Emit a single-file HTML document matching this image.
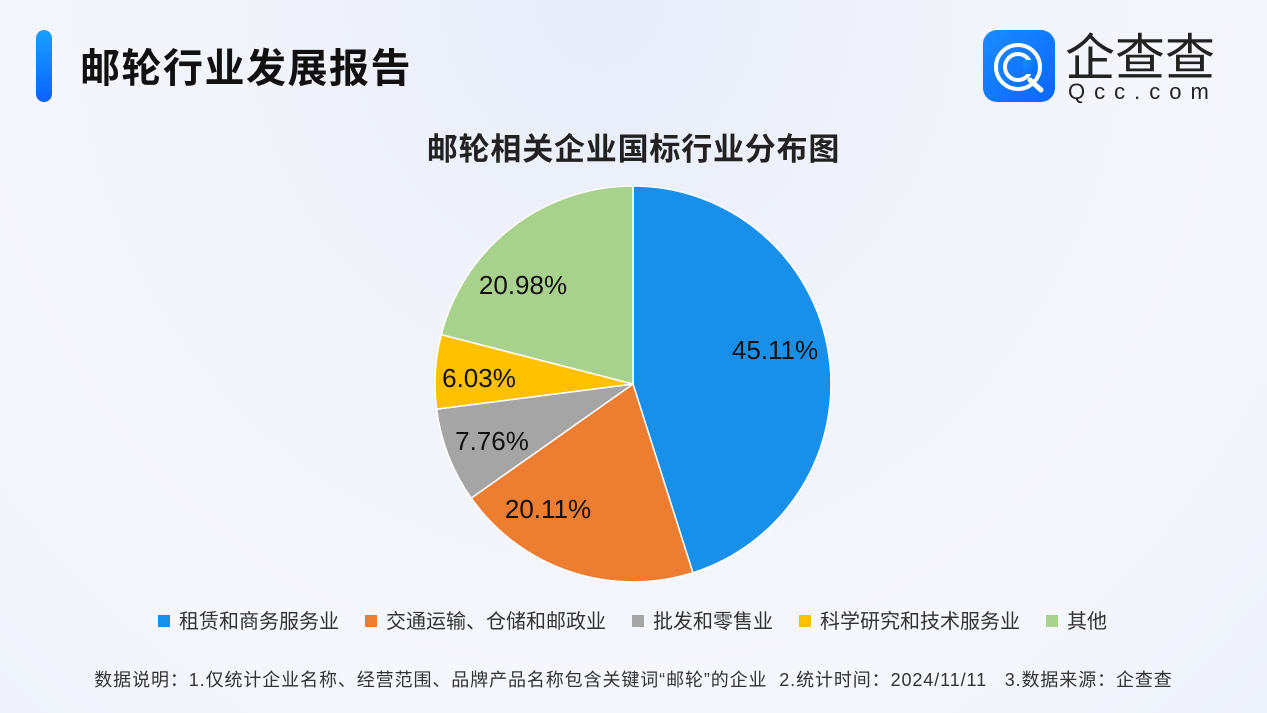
<!DOCTYPE html>
<html><head><meta charset="utf-8"><style>
body{margin:0;width:1267px;height:713px;overflow:hidden;font-family:"Liberation Sans","Noto Sans CJK SC",sans-serif;
background:radial-gradient(ellipse at 600px 0px,#e6ecfa 0%,#f1f3fb 35%,#f6f7fc 70%,#eef2fb 100%);position:relative}
.bar{position:absolute;left:36px;top:30px;width:16px;height:72px;border-radius:8px;background:linear-gradient(#1aa0ff,#0a62ff)}
.h1{position:absolute;left:80px;top:36px;font-size:40px;font-weight:bold;color:#111;letter-spacing:1.5px}
.ct{position:absolute;left:0;width:1267px;top:124px;text-align:center;font-size:31px;font-weight:bold;color:#222;letter-spacing:0.8px}
.leg{position:absolute;top:605px;left:158px;font-size:20px;color:#333;white-space:nowrap}
.leg span.s{display:inline-block;width:12px;height:12px;margin-right:9px;vertical-align:1px}
.leg .i{margin-right:26px}
.fn{position:absolute;top:666px;left:0;width:1267px;text-align:center;font-size:18px;letter-spacing:0.9px;color:#333;white-space:pre}
</style></head><body>
<div class="bar"></div>
<div class="h1">邮轮行业发展报告</div>
<svg style="position:absolute;left:983px;top:30px" width="250" height="74">
<defs><linearGradient id="g" x1="0" y1="0" x2="1" y2="1"><stop offset="0" stop-color="#1a8cff"/><stop offset="1" stop-color="#0a66ff"/></linearGradient></defs>
<rect x="0" y="0" width="72" height="72" rx="14" fill="url(#g)"/>
<circle cx="35" cy="37" r="22" fill="none" stroke="#fff" stroke-width="4"/>
<circle cx="35" cy="37" r="13" fill="none" stroke="#fff" stroke-width="4"/>
<path d="M47 50 L58 60" stroke="#fff" stroke-width="5" stroke-linecap="round"/>
<rect x="40" y="30" width="14" height="14" fill="url(#g)"/>
<text x="82" y="45" font-size="50" fill="#222" font-family="Noto Sans CJK SC,sans-serif">企查查</text>
<text x="85" y="69" font-size="22" fill="#222" letter-spacing="9" font-family="Liberation Sans,sans-serif">Qcc.com</text>
</svg>
<div class="ct">邮轮相关企业国标行业分布图</div>
<svg style="position:absolute;left:0;top:0" width="1267" height="713">
<g stroke="#fff" stroke-width="1.5">
<path d="M633 384 L633 186 A198 198 0 0 1 692.9 572.7Z" fill="#1890ea"/>
<path d="M633 384 L692.9 572.7 A198 198 0 0 1 471.2 498.1Z" fill="#ed7d31"/>
<path d="M633 384 L471.2 498.1 A198 198 0 0 1 436.6 409.1Z" fill="#a5a5a5"/>
<path d="M633 384 L436.6 409.1 A198 198 0 0 1 441.3 334.6Z" fill="#ffc000"/>
<path d="M633 384 L441.3 334.6 A198 198 0 0 1 633 186Z" fill="#a9d18e"/>
</g>
<g font-size="26" fill="#111" text-anchor="middle" font-family="Liberation Sans,sans-serif">
<text x="775" y="359">45.11%</text>
<text x="548" y="518">20.11%</text>
<text x="492" y="450">7.76%</text>
<text x="479" y="387">6.03%</text>
<text x="523" y="294">20.98%</text>
</g>
</svg>
<div class="leg"><span class="i"><span class="s" style="background:#1890ea"></span>租赁和商务服务业</span><span class="i"><span class="s" style="background:#ed7d31"></span>交通运输、仓储和邮政业</span><span class="i"><span class="s" style="background:#a5a5a5"></span>批发和零售业</span><span class="i"><span class="s" style="background:#ffc000"></span>科学研究和技术服务业</span><span class="i"><span class="s" style="background:#a9d18e"></span>其他</span></div>
<div class="fn">数据说明：1.仅统计企业名称、经营范围、品牌产品名称包含关键词“邮轮”的企业  2.统计时间：2024/11/11   3.数据来源：企查查</div>
</body></html>
